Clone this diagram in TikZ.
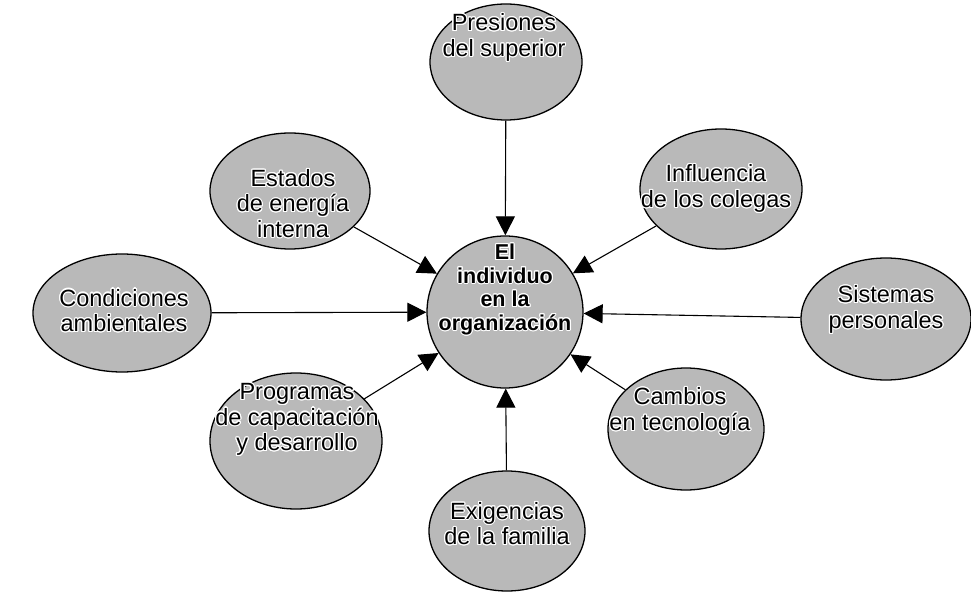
\documentclass[tikz,border=0pt]{standalone}
\usepackage{fontspec}
\setmainfont{Liberation Sans}
\usepackage{contour}
\contourlength{1.1pt}
\usetikzlibrary{arrows.meta,shapes.geometric}
\newcommand{\cw}[1]{\contour{white}{#1}}
\begin{document}
\begin{tikzpicture}[x=1pt,y=-1pt,
  bub/.style={ellipse, draw=black, line width=1.3pt, fill=gray!55, inner sep=0pt},
  lbl/.style={align=center, font=\fontsize{23.5}{25.5}\selectfont},
  clbl/.style={align=center, font=\bfseries\fontsize{21.5}{23.5}\selectfont},
  arr/.style={line width=1.1pt, -{Triangle[length=19pt,width=19pt]}}]
\path[fill=white] (0,0) rectangle (971,593);
\useasboundingbox (0,0) rectangle (971,593);

\node[bub, minimum width=156pt, minimum height=152pt] (ctr) at (505,312) {};
\node[clbl] (ctrt) at (505,290) {\cw{El}\\\cw{individuo}\\\cw{en la}\\\cw{organización}};

\node[bub, minimum width=152pt, minimum height=116pt] (top) at (506,62) {};
\node[lbl] (topt) at (504,38) {\cw{Presiones}\\\cw{del superior}};

\node[bub, minimum width=160pt, minimum height=116pt] (ene) at (290,191) {};
\node[lbl] (enet) at (293,204) {\cw{Estados}\\\cw{de energía}\\\cw{interna}};

\node[bub, minimum width=162pt, minimum height=120pt] (col) at (721,189) {};
\node[lbl] (colt) at (716,189) {\cw{Influencia}\\\cw{de los colegas}};

\node[bub, minimum width=178pt, minimum height=118pt] (con) at (122,313) {};
\node[lbl] (cont) at (124,311) {\cw{Condiciones}\\\cw{ambientales}};

\node[bub, minimum width=170pt, minimum height=122pt] (sis) at (886,319) {};
\node[lbl] (sist) at (886,310) {\cw{Sistemas}\\\cw{personales}};

\node[bub, minimum width=172pt, minimum height=136pt] (pro) at (296,441) {};
\node[lbl] (prot) at (297,420) {\cw{Programas}\\\cw{de capacitación}\\\cw{y desarrollo}};

\node[bub, minimum width=156pt, minimum height=122pt] (cam) at (686,429) {};
\node[lbl] (camt) at (680,412) {\cw{Cambios}\\\cw{en tecnología}};

\node[bub, minimum width=156pt, minimum height=120pt] (fam) at (507,531) {};
\node[lbl] (famt) at (507,524) {\cw{Exigencias}\\\cw{de la familia}};

\draw[arr] (top) -- (ctr);
\draw[arr] (ene) -- (ctr);
\draw[arr] (col) -- (ctr);
\draw[arr] (con) -- (ctr);
\draw[arr] (sis) -- (ctr);
\draw[arr] (pro) -- (ctr);
\draw[arr] (cam) -- (ctr);
\draw[arr] (fam) -- (ctr);
\end{tikzpicture}
\end{document}
